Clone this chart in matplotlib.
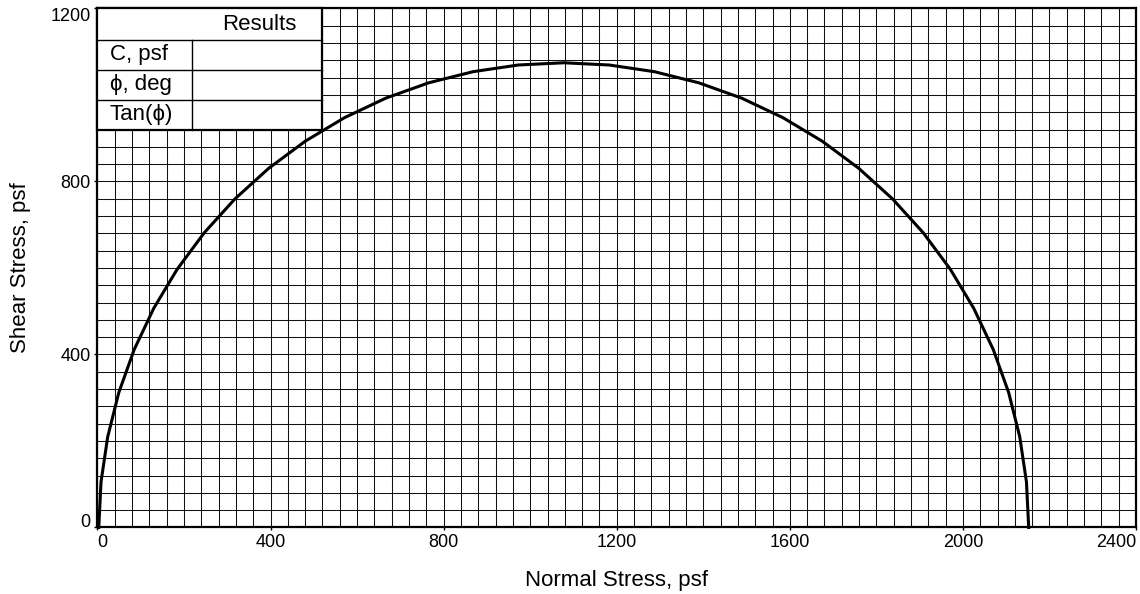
import numpy as np
import matplotlib
matplotlib.use('Agg')
import matplotlib.pyplot as plt
from matplotlib.patches import Rectangle
from matplotlib.lines import Line2D

plt.rcParams['font.family'] = ['Liberation Sans', 'DejaVu Sans']

# ---- data ----
sigma3 = [3]          # minor principal stress, psf
sigma1 = [2152]       # major principal stress, psf
x_ticks = [0, 400, 800, 1200, 1600, 2000, 2400]
y_ticks = [0, 400, 800, 1200]
table_header = 'Results'
table_rows = ['C, psf', 'ϕ, deg', 'Tan(ϕ)']
x_label = 'Normal Stress, psf'
y_label = 'Shear Stress, psf'

FS_TICK = 13
FS_LAB = 16
fig = plt.figure(figsize=(11.4, 5.94), dpi=100)
ax = fig.add_axes([0.0855, 0.1120, 0.9110, 0.8737])

ax.set_xlim(0, 2400)
ax.set_ylim(0, 1200)
ax.set_xticks(x_ticks)
ax.set_yticks(y_ticks)
ax.set_xticks(np.arange(0, 2401, 40), minor=True)
ax.set_yticks(np.arange(0, 1201, 40), minor=True)
ax.grid(which='both', color='#111111', linewidth=0.75, zorder=1)
ax.set_axisbelow(True)
ax.tick_params(which='major', length=2, width=1, pad=3, labelsize=FS_TICK, direction='out')
ax.tick_params(which='minor', length=0)
for s in ax.spines.values():
    s.set_linewidth(1.6)
    s.set_zorder(6)

# Mohr circle drawn from the principal stresses
n_seg = 32
for s3, s1 in zip(sigma3, sigma1):
    c = (s1 + s3) / 2.0
    r = (s1 - s3) / 2.0
    th = np.linspace(np.pi, 0, n_seg + 1)
    ax.plot(c + r * np.cos(th), r * np.sin(th), color='black', lw=2.2,
            zorder=4, clip_on=False, solid_joinstyle='round')

# tick label alignment at the ends
xl = ax.get_xticklabels()
xl[0].set_ha('left')
xl[-1].set_ha('right')
yl = ax.get_yticklabels()
yl[0].set_va('baseline')
yl[-1].set_va('top')

ax.set_xlabel(x_label, fontsize=FS_LAB)
ax.set_ylabel(y_label, fontsize=FS_LAB)
ax.xaxis.set_label_coords(0.5, -0.082)
ax.yaxis.set_label_coords(-0.064, 0.5)

# results table (top-left box)
T = ax.transAxes
tw = 0.216
row_edges = [0.0, 0.060, 0.118, 0.176, 0.234]   # from top
col_split = 0.0907
ax.add_patch(Rectangle((0, 1 - row_edges[-1]), tw, row_edges[-1], transform=T,
                       facecolor='white', edgecolor='black', lw=1.6, zorder=7,
                       clip_on=False))
for e in row_edges[1:-1]:
    ax.add_line(Line2D([0, tw], [1 - e, 1 - e], transform=T, color='black',
                       lw=1.0, zorder=8))
ax.add_line(Line2D([col_split, col_split], [1 - row_edges[1], 1 - row_edges[-1]],
                   transform=T, color='black', lw=1.0, zorder=8))
ax.text(0.192, 1 - (row_edges[0] + row_edges[1]) / 2, table_header, transform=T,
        ha='right', va='center', fontsize=FS_LAB, zorder=9)
for i, lab in enumerate(table_rows):
    yc = 1 - (row_edges[i + 1] + row_edges[i + 2]) / 2
    ax.text(0.012, yc, lab, transform=T, ha='left', va='center', fontsize=FS_LAB,
            zorder=9)

fig.savefig('out.png', dpi=100)
